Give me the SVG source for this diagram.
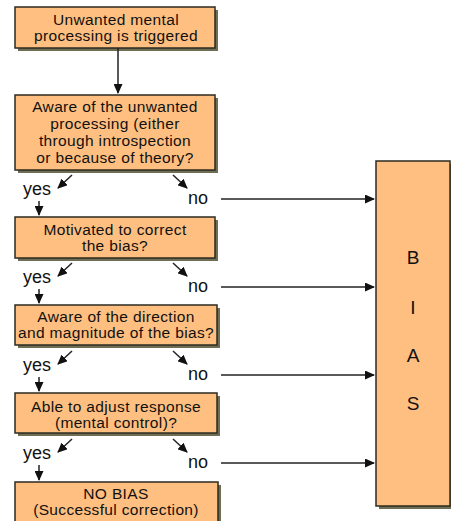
<svg xmlns="http://www.w3.org/2000/svg" width="451" height="521" viewBox="0 0 451 521">
<defs>
<style>
.box{fill:#FFBF80;stroke:#2b2b20;stroke-width:1.5}
.sh{fill:#6e6e55}
.t{font-family:"Liberation Sans",Arial,sans-serif;font-size:15.5px;letter-spacing:0.35px;fill:#111;text-anchor:middle}
.lbl{font-family:"Liberation Sans",Arial,sans-serif;font-size:18px;fill:#111}
.big{font-family:"Liberation Sans",Arial,sans-serif;font-size:19px;fill:#111;text-anchor:middle}
.ln{stroke:#222;stroke-width:1.5;fill:none}
</style>
<marker id="ah" markerWidth="10" markerHeight="9" refX="9" refY="4.5" orient="auto" markerUnits="userSpaceOnUse">
<path d="M0,0 L10,4.5 L0,9 Z" fill="#111"/>
</marker>
</defs>
<rect width="451" height="521" fill="#fff"/>

<g id="n1">
<rect class="sh" x="18" y="10" width="200" height="41"/>
<rect class="box" x="15" y="7" width="200" height="41"/>
<text class="t" x="116" y="25">Unwanted mental</text>
<text class="t" x="116" y="41">processing is triggered</text>
</g>
<g id="n2">
<rect class="sh" x="18" y="98" width="200" height="75"/>
<rect class="box" x="15" y="95" width="200" height="75"/>
<text class="t" x="115" y="112">Aware of the unwanted</text>
<text class="t" x="115" y="129">processing (either</text>
<text class="t" x="115" y="146">through introspection</text>
<text class="t" x="115" y="163">or because of theory?</text>
</g>
<g id="n3">
<rect class="sh" x="18" y="220" width="200" height="41"/>
<rect class="box" x="15" y="217" width="200" height="41"/>
<text class="t" x="115" y="235">Motivated to correct</text>
<text class="t" x="115" y="251">the bias?</text>
</g>
<g id="n4">
<rect class="sh" x="18" y="308" width="202" height="40"/>
<rect class="box" x="15" y="305" width="202" height="40"/>
<text class="t" x="116" y="322">Aware of the direction</text>
<text class="t" x="116" y="338">and magnitude of the bias?</text>
</g>
<g id="n5">
<rect class="sh" x="18" y="396" width="202" height="40"/>
<rect class="box" x="15" y="393" width="202" height="40"/>
<text class="t" x="116" y="412">Able to adjust response</text>
<text class="t" x="116" y="428">(mental control)?</text>
</g>
<g id="n6">
<rect class="sh" x="18" y="485" width="203" height="50"/>
<rect class="box" x="15" y="482" width="203" height="50"/>
<text class="t" x="116" y="499">NO BIAS</text>
<text class="t" x="116" y="515">(Successful correction)</text>
</g>
<g id="bias">
<rect class="sh" x="379" y="164" width="74" height="345"/>
<rect class="box" x="376" y="161" width="74" height="345"/>
<text class="big" x="413" y="264">B</text>
<text class="big" x="413" y="314">I</text>
<text class="big" x="413" y="362">A</text>
<text class="big" x="413" y="410">S</text>
</g>

<g id="labels">
<text class="lbl" x="23" y="195">yes</text>
<text class="lbl" x="188" y="204">no</text>
<text class="lbl" x="23" y="283">yes</text>
<text class="lbl" x="188" y="292">no</text>
<text class="lbl" x="23" y="371">yes</text>
<text class="lbl" x="188" y="380">no</text>
<text class="lbl" x="23" y="459">yes</text>
<text class="lbl" x="188" y="468">no</text>
</g>

<g id="connectors" class="ln">
<line x1="118" y1="48" x2="118" y2="93" marker-end="url(#ah)"/>

<line x1="72" y1="175" x2="58" y2="188" marker-end="url(#ah)"/>
<line x1="173" y1="175" x2="187" y2="188" marker-end="url(#ah)"/>
<line x1="39" y1="201" x2="39" y2="215" marker-end="url(#ah)"/>
<line x1="221" y1="199" x2="374" y2="199" marker-end="url(#ah)"/>

<line x1="72" y1="263" x2="58" y2="276" marker-end="url(#ah)"/>
<line x1="173" y1="263" x2="187" y2="276" marker-end="url(#ah)"/>
<line x1="39" y1="289" x2="39" y2="303" marker-end="url(#ah)"/>
<line x1="221" y1="287" x2="374" y2="287" marker-end="url(#ah)"/>

<line x1="72" y1="351" x2="58" y2="364" marker-end="url(#ah)"/>
<line x1="173" y1="351" x2="187" y2="364" marker-end="url(#ah)"/>
<line x1="39" y1="377" x2="39" y2="391" marker-end="url(#ah)"/>
<line x1="221" y1="375" x2="374" y2="375" marker-end="url(#ah)"/>

<line x1="72" y1="439" x2="58" y2="452" marker-end="url(#ah)"/>
<line x1="173" y1="439" x2="187" y2="452" marker-end="url(#ah)"/>
<line x1="39" y1="465" x2="39" y2="480" marker-end="url(#ah)"/>
<line x1="221" y1="463" x2="374" y2="463" marker-end="url(#ah)"/>
</g>
</svg>
